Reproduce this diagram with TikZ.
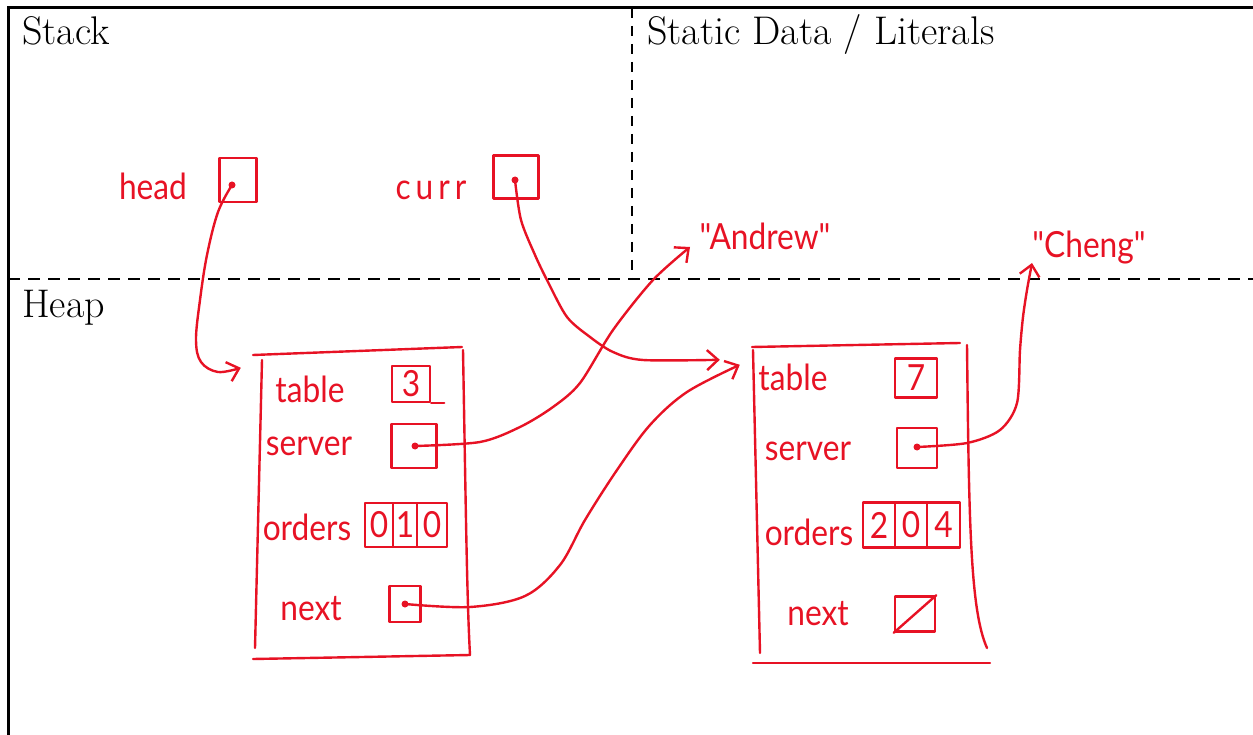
\documentclass[tikz,border=0pt]{standalone}
\usepackage{fontspec}
\newfontfamily\hand{Lato}[FakeStretch=0.88]
\newfontfamily\handwide{Lato}[FakeStretch=0.88,LetterSpace=14.0]
\usetikzlibrary{arrows.meta}
\definecolor{ink}{RGB}{231,18,36}
\begin{document}
\begin{tikzpicture}[x=1pt,y=-1pt,
  pen/.style={draw=ink, line width=2.4pt, line cap=round, line join=round},
  hw/.style={text=ink, font=\hand\fontsize{36}{40}\selectfont, inner sep=0pt, anchor=base},
  region/.style={font=\fontsize{40}{46}\selectfont, anchor=base west, inner sep=0pt},
  cell/.style={pen, inner sep=0pt, text=ink, font=\hand\fontsize{36}{40}\selectfont},
  objbox/.style={draw=none, inner sep=0pt, minimum width=#1},
  ptrdot/.style={circle, fill=ink, inner sep=0pt, minimum size=7pt},
  ptr/.style={pen, -{Straight Barb[length=11pt,width=20pt]}},
]
\useasboundingbox (0,0) rectangle (1253,735);

% memory regions
\draw[line width=3pt] (8,735) -- (8,8) -- (1253,8);
\draw[line width=1.6pt, dash pattern=on 12pt off 8pt] (8,279) -- (1253,279);
\draw[line width=2.4pt, dash pattern=on 10pt off 8pt] (632,8) -- (632,279);
\node[region] (stack) at (22,45) {Stack};
\node[region] (static) at (647,45) {Static Data / Literals};
\node[region] (heap) at (22,317) {Heap};

% stack variables
\node[hw] (headlbl) at (153,200) {head};
\node[cell, minimum width=37pt, minimum height=44pt] (headbox) at (238,180) {};
\node[ptrdot] (hd) at (232,185) {};
\node[hw, font=\handwide\fontsize{36}{40}\selectfont] (currlbl) at (431,200) {curr};
\node[cell, minimum width=45pt, minimum height=43pt] (currbox) at (516,177) {};
\node[ptrdot] (cd) at (515,180) {};

% string literals
\node[hw] (andrew) at (765,250) {"Andrew"};
\node[hw] (cheng) at (1089,258) {"Cheng"};

% first heap object
\node[objbox=210pt, minimum height=307pt] (obj1) at (363,503.5) {};
\draw[pen] (253,355) -- (462,347);
\draw[pen] (262,360) -- (255,648);
\draw[pen] (463,350) .. controls (466,520) and (467,600) .. (470,655);
\draw[pen] (253,659) -- (470,655);
\node[hw] (t1) at (310,402) {table};
\node[cell, minimum width=38pt, minimum height=36pt] (tb1) at (411,384) {3};
\draw[pen] (tb1.south east) -- ++(13,0);
\node[hw] (s1) at (309,455) {server};
\node[cell, minimum width=45pt, minimum height=44pt] (sb1) at (414,446) {};
\node[ptrdot] (s1d) at (415,446) {};
\node[hw] (o1) at (307,540) {orders};
\node[cell, minimum width=28pt, minimum height=44pt] (c10) at (379,525) {0};
\node[cell, minimum width=24pt, minimum height=44pt] (c11) at (405,525) {1};
\node[cell, minimum width=30pt, minimum height=44pt] (c12) at (432,525) {0};
\node[hw] (n1) at (311,620) {next};
\node[cell, minimum width=31pt, minimum height=36pt] (nb1) at (405,604) {};
\node[ptrdot] (n1d) at (405,604) {};

% second heap object
\node[objbox=212pt, minimum height=318pt] (obj2) at (861,504) {};
\draw[pen] (752,347) -- (960,343);
\draw[pen] (753,350) -- (760,653);
\draw[pen] (967,345) .. controls (969,520) and (970,610) .. (987,648);
\draw[pen] (753,663) -- (990,663);
\node[hw] (t2) at (793,390) {table};
\node[cell, minimum width=42pt, minimum height=39pt] (tb2) at (916,378) {7};
\node[hw] (s2) at (808,460) {server};
\node[cell, minimum width=40pt, minimum height=40pt] (sb2) at (917,448) {};
\node[ptrdot] (s2d) at (917,447) {};
\node[hw] (o2) at (809,545) {orders};
\node[cell, minimum width=32pt, minimum height=45pt] (c20) at (879,525) {2};
\node[cell, minimum width=32pt, minimum height=45pt] (c21) at (911,525) {0};
\node[cell, minimum width=33pt, minimum height=45pt] (c22) at (943.5,525) {4};
\node[hw] (n2) at (818,625) {next};
\node[cell, minimum width=40pt, minimum height=35pt] (nb2) at (915,614) {};
\draw[pen] (nb2.south west) -- (nb2.north east);

% pointers
\draw[ptr] plot[smooth, tension=0.6] coordinates {(hd.center) (218,212) (207,255)
  (200,300) (196,340) (201,362) (218,372) ([xshift=-17pt,yshift=-18pt]obj1.north west)};
\draw[ptr] plot[smooth, tension=0.5] coordinates {(cd.center) (521,220) (535,255)
  (548,282) (567,317) (590,337) (613,352) (643,360) ([xshift=-35pt,yshift=-15pt]obj2.north west)};
\draw[ptr] plot[smooth, tension=0.5] coordinates {(s1d.center) (480,442) (520,427)
  (553,407) (580,383) (613,330) (653,280) ([xshift=-75pt,yshift=3pt]andrew.base)};
\draw[ptr] plot[smooth, tension=0.55] coordinates {(n1d.center) (470,607) (525,596)
  (560,565) (585,520) (617,470) (650,425) (687,392)
  ([xshift=-15pt,yshift=-20pt]obj2.north west)};
\draw[ptr] plot[smooth, tension=0.5] coordinates {(s2d.center) (967,443) (1000,430)
  (1017,403) (1020,350) (1023,317) (1027,290) ([xshift=-57pt,yshift=-5pt]cheng.base)};
\end{tikzpicture}
\end{document}
